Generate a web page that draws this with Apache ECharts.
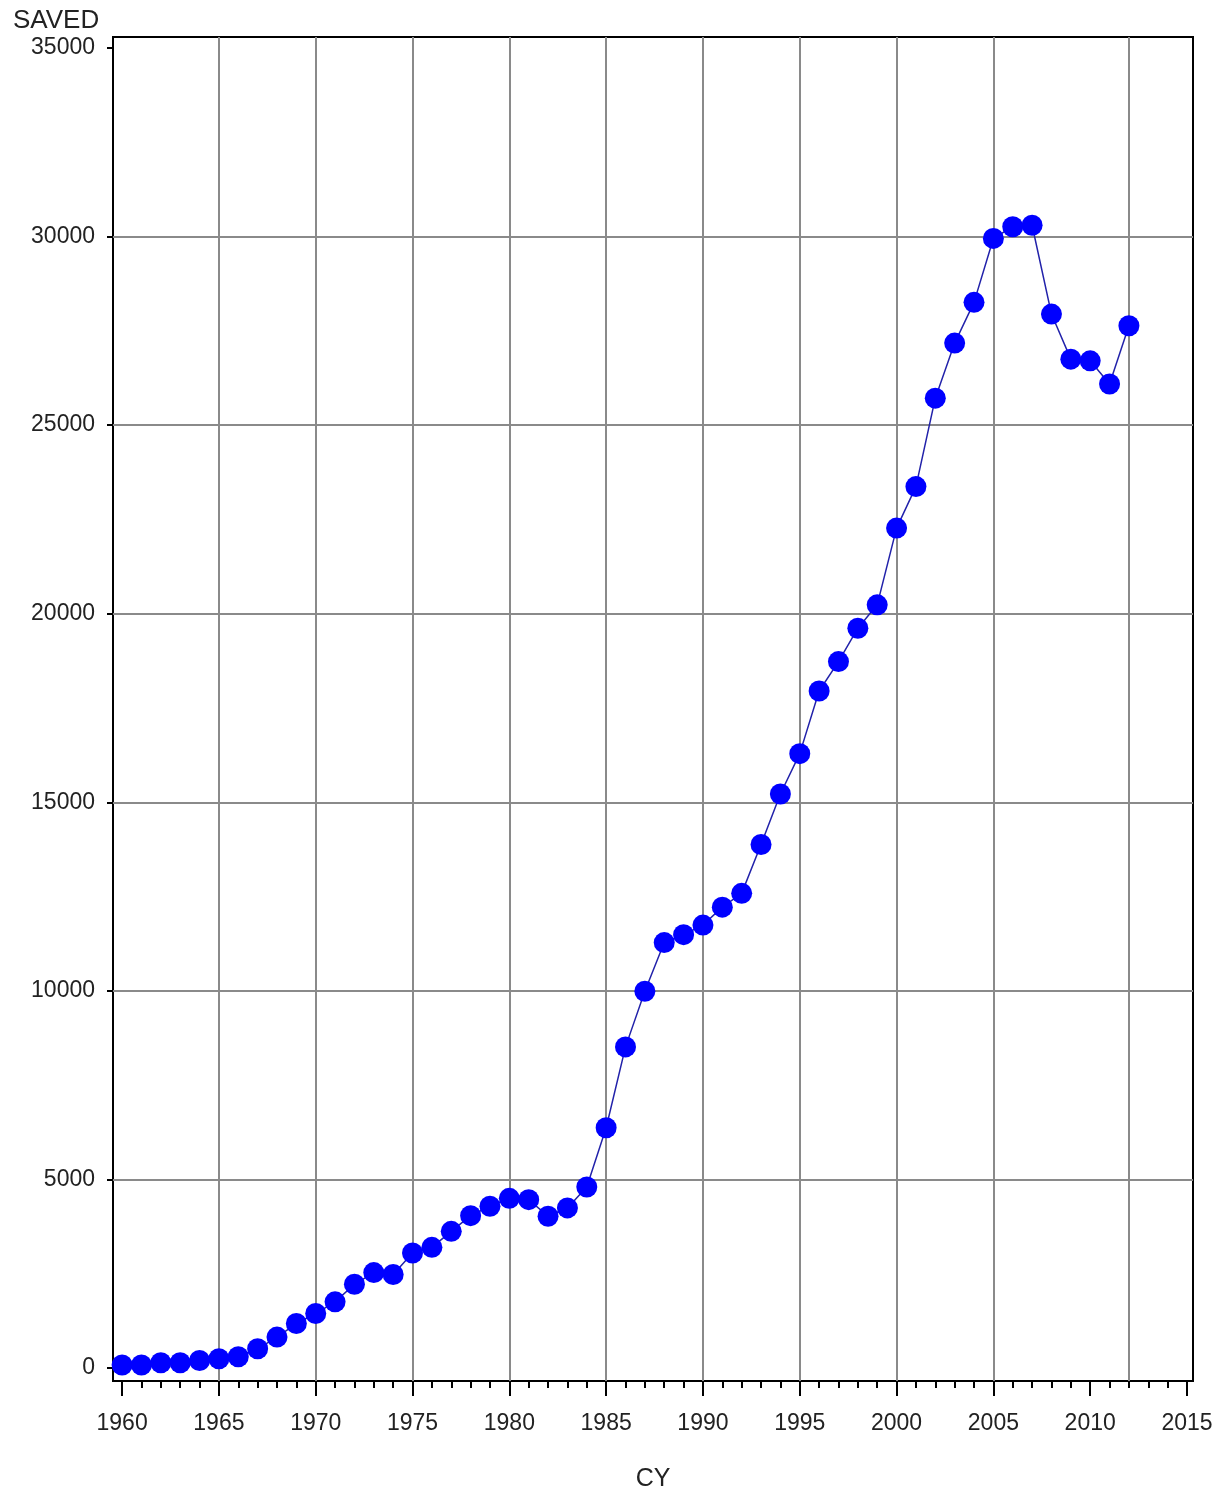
<!DOCTYPE html>
<html>
<head>
<meta charset="utf-8">
<script src="https://cdn.jsdelivr.net/npm/echarts@6/dist/echarts.min.js"></script>
<style>
  html, body { margin: 0; padding: 0; background: #fff; }
  #chart { width: 1222px; height: 1497px; }
</style>
</head>
<body>
<div id="chart"></div>
<script>
// CY vs SAVED
const years = [
  1960, 1961, 1962, 1963, 1964, 1965, 1966, 1967, 1968, 1969,
  1970, 1971, 1972, 1973, 1974, 1975, 1976, 1977, 1978, 1979,
  1980, 1981, 1982, 1983, 1984, 1985, 1986, 1987, 1988, 1989,
  1990, 1991, 1992, 1993, 1994, 1995, 1996, 1997, 1998, 1999,
  2000, 2001, 2002, 2003, 2004, 2005, 2006, 2007, 2008, 2009,
  2010, 2011, 2012
]
const saved = [
  80, 80, 140, 140, 200, 245, 300, 510, 820, 1180,
  1445, 1755, 2220, 2530, 2480, 3050, 3200, 3625, 4040, 4290,
  4500, 4465, 4025, 4245, 4800, 6370, 8515, 9990, 11280, 11490,
  11745, 12220, 12585, 13880, 15220, 16290, 17950, 18730, 19615, 20235,
  22270, 23370, 25715, 27175, 28255, 29950, 30260, 30300, 27945, 26750,
  26705, 26090, 27635
]
const xMajorTicks = [1960, 1965, 1970, 1975, 1980, 1985, 1990, 1995, 2000, 2005, 2010, 2015]
const xMinorTicks = Array.from({ length: 56 }, (_, i) => 1960 + i)
const yTicks = [0, 5000, 10000, 15000, 20000, 25000, 30000, 35000]
const xGridLines = [1965, 1970, 1975, 1980, 1985, 1990, 1995, 2000, 2005, 2012]
const yGridLines = [5000, 10000, 15000, 20000, 25000, 30000]

const font = 'Liberation Sans, Arial, sans-serif'
const xMin = 1959.53
const xMax = 2015.31
const plain = v => String(Math.round(v))

const chart = echarts.init(document.getElementById('chart'))

chart.setOption({
  animation: false,
  backgroundColor: '#fff',
  title: {
    text: 'SAVED',
    left: 8,
    top: 3,
    textStyle: { fontFamily: font, fontSize: 26, fontWeight: 'normal', color: '#222' }
  },
  grid: {
    left: 113, top: 37, right: 29, bottom: 115,
    show: true, borderColor: '#000', borderWidth: 2, backgroundColor: '#fff'
  },
  xAxis: [
    {
      type: 'value',
      min: xMin,
      max: xMax,
      position: 'bottom',
      name: 'CY',
      nameLocation: 'middle',
      nameGap: 86,
      nameTextStyle: { fontFamily: font, fontSize: 25, color: '#222' },
      axisLine: { show: true, onZero: false, lineStyle: { color: '#000', width: 2 } },
      axisTick: { show: true, customValues: xMajorTicks, length: 15, lineStyle: { color: '#000', width: 2 } },
      axisLabel: { customValues: xMajorTicks, formatter: plain, margin: 31, fontFamily: font, fontSize: 23, color: '#222' },
      splitLine: { show: false }
    },
    {
      type: 'value',
      min: xMin,
      max: xMax,
      position: 'bottom',
      axisLine: { show: false, onZero: false },
      axisTick: { show: true, customValues: xMinorTicks, length: 7, lineStyle: { color: '#000', width: 2 } },
      axisLabel: { show: false },
      splitLine: { show: false }
    }
  ],
  yAxis: {
    type: 'value',
    min: -344,
    max: 35291,
    axisLine: { show: true, onZero: false, lineStyle: { color: '#000', width: 2 } },
    axisTick: { show: true, customValues: yTicks, length: 6, lineStyle: { color: '#000', width: 2 } },
    axisLabel: { customValues: yTicks, formatter: plain, margin: 18, fontFamily: font, fontSize: 23, color: '#222' },
    splitLine: { show: false }
  },
  series: [
    {
      // grid lines only
      type: 'line',
      data: [],
      z: 1,
      silent: true,
      markLine: {
        z: 1,
        silent: true,
        symbol: 'none',
        label: { show: false },
        lineStyle: { color: '#8a8a8a', width: 2, type: 'solid' },
        data: [
          ...xGridLines.map(v => ({ xAxis: v })),
          ...yGridLines.map(v => ({ yAxis: v }))
        ]
      }
    },
    {
      type: 'line',
      z: 3,
      data: years.map((y, i) => [y, saved[i]]),
      symbol: 'circle',
      symbolSize: 21,
      lineStyle: { color: '#2222aa', width: 1.5 },
      itemStyle: { color: '#0000ff' }
    }
  ]
})
</script>
</body>
</html>
